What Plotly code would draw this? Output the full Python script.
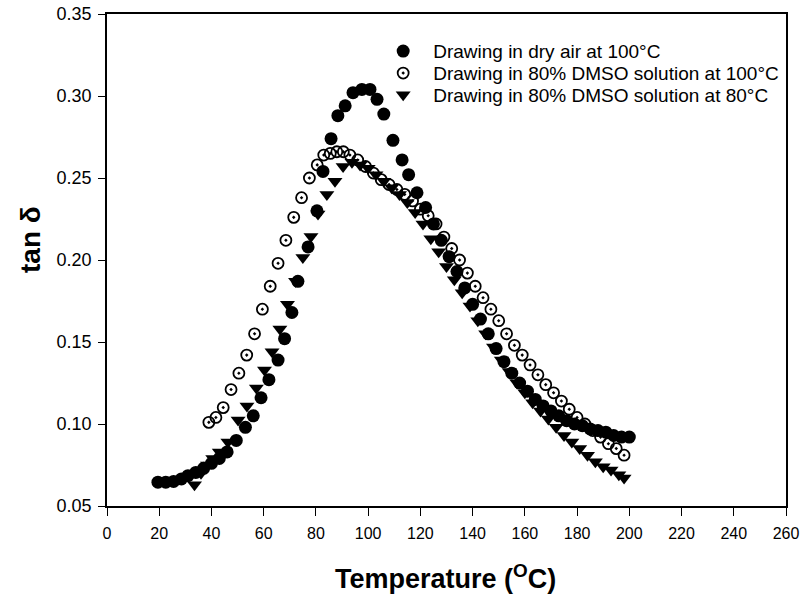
import plotly.graph_objects as go

# Series 1: Drawing in dry air at 100 °C (filled circles)
t_dry = [19.5, 22.5, 25.5, 28.5, 31, 34, 37, 40, 43, 46, 49.5, 53, 56, 59, 62, 65.5, 68, 70.8,
         73.1, 77, 80.4, 82.7, 85.8, 88.4, 91.2, 94.2, 97.6, 100.7, 103.4, 106, 109.5, 113,
         115.5, 118.7, 122, 125, 128, 131, 134, 137, 140, 143, 146, 149, 152, 155, 158, 161,
         164, 167, 170, 173, 176, 179, 182, 185, 188, 191, 194, 197, 200]
v_dry = [0.0645, 0.0645, 0.065, 0.0665, 0.0685, 0.0705, 0.073, 0.076, 0.079, 0.083, 0.090,
         0.098, 0.105, 0.116, 0.127, 0.139, 0.152, 0.168, 0.187, 0.208, 0.230, 0.254, 0.274,
         0.288, 0.294, 0.302, 0.304, 0.304, 0.298, 0.289, 0.273, 0.261, 0.252, 0.241, 0.232,
         0.222, 0.212, 0.202, 0.193, 0.183, 0.173, 0.164, 0.155, 0.146, 0.138, 0.131, 0.125,
         0.120, 0.115, 0.111, 0.108, 0.105, 0.102, 0.100, 0.099, 0.097, 0.096, 0.095, 0.093,
         0.092, 0.092]

# Series 2: Drawing in 80% DMSO solution at 100 °C (dotted open circles)
t_d100 = [39, 41.7, 44.5, 47.5, 50.5, 53.5, 56.5, 59.5, 62.5, 65.5, 68.5, 71.5, 74.5, 77.5,
          80.5, 83, 85.5, 88, 90.5, 93, 96, 99, 102, 105, 108, 111, 114, 117, 120, 123, 126,
          129, 132, 135, 138, 141, 144, 147, 150, 153, 156, 159, 162, 165, 168, 171, 174, 177,
          180, 183, 186, 189, 192, 195, 198]
v_d100 = [0.101, 0.104, 0.110, 0.121, 0.131, 0.142, 0.155, 0.170, 0.184, 0.198, 0.212, 0.226,
          0.238, 0.250, 0.258, 0.264, 0.265, 0.266, 0.266, 0.264, 0.261, 0.257, 0.253, 0.249,
          0.246, 0.243, 0.240, 0.236, 0.231, 0.227, 0.222, 0.214, 0.207, 0.200, 0.192, 0.184,
          0.177, 0.170, 0.163, 0.155, 0.148, 0.142, 0.136, 0.130, 0.124, 0.119, 0.114, 0.109,
          0.104, 0.100, 0.096, 0.092, 0.088, 0.085, 0.081]

# Series 3: Drawing in 80% DMSO solution at 80 °C (filled down-triangles)
t_d80 = [33.5, 36, 38.5, 40.5, 43, 46.3, 50.2, 53.6, 57.2, 60.3, 63.2, 66.2, 69.1, 72.2, 75,
         78.1, 80.8, 84.2, 87.3, 90.4, 93.8, 96.9, 100, 103, 106, 109, 112, 115, 118, 121,
         124, 127, 130, 133, 136, 139, 142, 145, 148, 151, 154, 157, 160, 163, 166, 169, 172,
         175, 178, 181, 184, 187, 190, 193, 196, 198]
v_d80 = [0.063, 0.070, 0.075, 0.079, 0.083, 0.089, 0.1025, 0.111, 0.122, 0.133, 0.144, 0.158,
         0.173, 0.187, 0.2015, 0.2144, 0.228, 0.240, 0.248, 0.257, 0.2596, 0.258, 0.256, 0.252,
         0.248, 0.244, 0.240, 0.235, 0.229, 0.222, 0.213, 0.205, 0.196, 0.188, 0.180, 0.172,
         0.163, 0.155, 0.147, 0.139, 0.132, 0.125, 0.119, 0.113, 0.108, 0.103, 0.098, 0.093,
         0.089, 0.085, 0.081, 0.077, 0.074, 0.072, 0.069, 0.067]

x_ticks = [0, 20, 40, 60, 80, 100, 120, 140, 160, 180, 200, 220, 240, 260]
y_ticks = [0.05, 0.10, 0.15, 0.20, 0.25, 0.30, 0.35]

FONT = "Liberation Sans, Arial, sans-serif"

fig = go.Figure()
fig.add_trace(go.Scatter(
    x=t_dry, y=v_dry, mode="markers", name="Drawing in dry air at 100°C", legend="legend",
    marker=dict(symbol="circle", size=13, color="black", line=dict(width=0))))
fig.add_trace(go.Scatter(
    x=t_d100, y=v_d100, mode="markers", name="Drawing in 80% DMSO solution at 100°C",
    legend="legend2",
    marker=dict(symbol="circle-open-dot", size=11, color="black", line=dict(width=1.8, color="black"))))
fig.add_trace(go.Scatter(
    x=t_d80, y=v_d80, mode="markers", name="Drawing in 80% DMSO solution at 80°C",
    legend="legend3",
    marker=dict(symbol="triangle-down", size=13, color="black", line=dict(width=0))))

leg_common = dict(x=0.392, xanchor="left", yanchor="top", bgcolor="rgba(0,0,0,0)",
                  font=dict(size=19, family=FONT), itemwidth=50)

fig.update_layout(
    width=805, height=607,
    margin=dict(l=107, r=19, t=14, b=101, autoexpand=False),
    paper_bgcolor="white", plot_bgcolor="white",
    font=dict(family=FONT, color="black", size=16),
    showlegend=True,
    legend=dict(y=0.963, **leg_common),
    legend2=dict(y=0.9183, **leg_common),
    legend3=dict(y=0.874, **leg_common),
    xaxis=dict(range=[0, 260], tickvals=x_ticks, ticktext=[str(v) for v in x_ticks],
               showgrid=False, zeroline=False, showline=True, linecolor="black", linewidth=1.5,
               mirror=True, ticks="outside", ticklen=8, tickcolor="black", tickwidth=1.2,
               automargin=False, ticklabelstandoff=4, ticklabeloverflow="allow",
               tickfont=dict(size=16, family=FONT)),
    yaxis=dict(range=[0.05, 0.35], tickvals=y_ticks, ticktext=["%.2f" % v for v in y_ticks],
               showgrid=False, zeroline=False, showline=True, linecolor="black", linewidth=1.5,
               mirror=True, ticks="outside", ticklen=7, tickcolor="black", tickwidth=1.2,
               automargin=False, ticklabelstandoff=3, ticklabeloverflow="allow",
               tickfont=dict(size=18, family=FONT)),
    annotations=[
        dict(text="<b>Temperature (<sup>O</sup>C)</b>", xref="paper", yref="paper",
             x=0.4978, y=-0.1443, xanchor="center", yanchor="middle", showarrow=False,
             font=dict(size=27, family=FONT)),
        dict(text="<b>tan δ</b>", xref="paper", yref="paper", textangle=-90,
             x=-0.1119, y=0.5407, xanchor="center", yanchor="middle", showarrow=False,
             font=dict(size=28, family=FONT)),
    ],
)

fig.write_html("out.html", config={"displayModeBar": False},
               post_script="document.body.style.margin='0';document.body.style.overflow='hidden';")
